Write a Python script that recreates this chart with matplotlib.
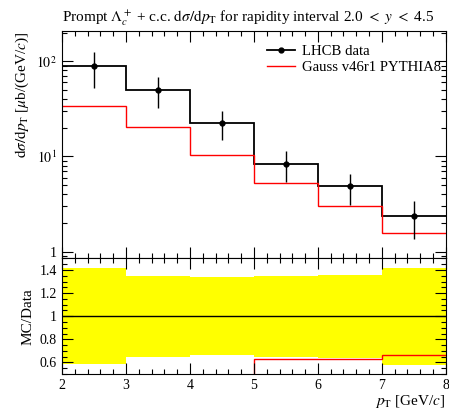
import numpy as np
import matplotlib
matplotlib.use('Agg')
import matplotlib.pyplot as plt
from matplotlib.lines import Line2D
from matplotlib.ticker import FixedLocator, MultipleLocator, FuncFormatter, LogLocator, NullFormatter

plt.rcParams['font.family'] = ['Liberation Serif', 'DejaVu Serif']
plt.rcParams['mathtext.fontset'] = 'stix'
plt.rcParams['font.size'] = 11

# binning in pT [GeV/c]
edges = [2, 3, 4, 5, 6, 7, 8]
centers = [2.5, 3.5, 4.5, 5.5, 6.5, 7.5]

# LHCb measurement
data_vals = [89.0, 50.0, 22.6, 8.4, 4.87, 2.37]
data_errs = [37.0, 17.5, 7.6, 2.95, 1.75, 1.0]

# Gauss MC prediction
mc_vals = [33.6, 20.2, 10.3, 5.28, 3.05, 1.57]

data_label = 'LHCB data'
mc_label = 'Gauss v46r1 PYTHIA8'

data_vals = np.array(data_vals)
data_errs = np.array(data_errs)
mc_vals = np.array(mc_vals)

fig = plt.figure(figsize=(4.49, 4.09), dpi=100)
ax = fig.add_axes([0.138, 0.368, 0.855, 0.555])
rax = fig.add_axes([0.138, 0.0856, 0.855, 0.2824], sharex=ax)

# main panel
ax.stairs(data_vals, edges, baseline=None, color='black', lw=1.3)
ax.errorbar(centers, data_vals, yerr=data_errs, fmt='o', color='black',
            ms=3.5, elinewidth=1.0, capsize=0)
ax.stairs(mc_vals, edges, baseline=None, color='red', lw=1.0)

ax.set_yscale('log')
ax.set_xlim(2, 8)
ax.set_ylim(0.85, 205)

def logfmt(v, pos):
    if abs(v - 1) < 1e-9:
        return '1'
    return r'$10^{%d}$' % int(round(np.log10(v)))

ax.yaxis.set_major_locator(FixedLocator([1, 10, 100]))
ax.yaxis.set_major_formatter(FuncFormatter(logfmt))
ax.yaxis.set_minor_locator(LogLocator(base=10, subs=np.arange(2, 10)))
ax.yaxis.set_minor_formatter(NullFormatter())

ax.set_ylabel(r'$\mathrm{d}\sigma/\mathrm{d}p_\mathrm{T}$ [$\mu$b/(GeV/$c$)]', loc='top')
ax.set_title(r'Prompt $\Lambda_c^+$ + c.c. $\mathrm{d}\sigma/\mathrm{d}p_\mathrm{T}$ for rapidity interval 2.0 $<$ $y$ $<$ 4.5',
             loc='left', fontsize=11, pad=7)

handles = [Line2D([], [], color='black', lw=1.3, marker='o', ms=3.5),
           Line2D([], [], color='red', lw=1.0)]
ax.legend(handles, [data_label, mc_label], loc='upper left',
          bbox_to_anchor=(0.534, 0.94), frameon=False, borderpad=0,
          borderaxespad=0, handlelength=1.9, handletextpad=0.5,
          labelspacing=0.15, fontsize=10.6)

plt.setp(ax.get_xticklabels(), visible=False)

# ratio panel
rel = data_errs / data_vals
rax.stairs(1 + rel, edges, baseline=1 - rel, fill=True, color='yellow', lw=0)
rax.axhline(1.0, color='black', lw=1.0)
rax.stairs(mc_vals / data_vals, edges, baseline=None, color='red', lw=1.0)
rax.set_ylim(0.5, 1.5)
rax.yaxis.set_major_locator(FixedLocator([0.6, 0.8, 1.0, 1.2, 1.4]))
rax.yaxis.set_major_formatter(FuncFormatter(lambda v, p: '%g' % v))
rax.yaxis.set_minor_locator(MultipleLocator(0.05))
rax.set_ylabel('MC/Data')
rax.set_xlabel(r'$p_\mathrm{T}$ [GeV/$c$]', loc='right', labelpad=1)

for a in (ax, rax):
    a.xaxis.set_major_locator(MultipleLocator(1))
    a.xaxis.set_minor_locator(MultipleLocator(0.2))
    a.tick_params(which='both', direction='in', top=True, right=True, width=0.8)
    a.tick_params(which='major', length=8, labelsize=10)
    a.tick_params(which='minor', length=3.5)
    for s in a.spines.values():
        s.set_linewidth(0.8)

fig.align_ylabels([ax, rax])
fig.savefig('out.png', dpi=100)
